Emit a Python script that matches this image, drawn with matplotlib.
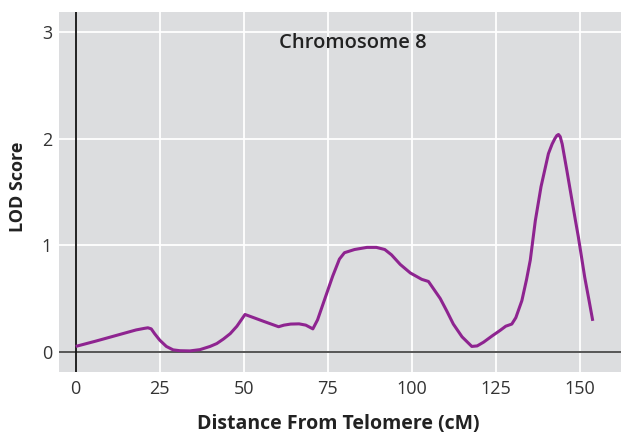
import matplotlib
matplotlib.use("Agg")
import matplotlib.pyplot as plt

# LOD score curve for chromosome 8
distance_cm = [0, 3, 6, 10, 14, 18, 20.5, 21.5, 22.5, 23.5, 25, 27, 29, 31, 34, 37, 40, 42,
               44, 46, 48, 50.4, 53, 56, 60.4, 62, 64, 66.5, 68.5, 70.6, 72, 74.3, 76.5,
               78.5, 80, 83, 86.7, 89.5, 92, 94, 96.6, 99.6, 103, 105, 108.5, 110.5,
               112.4, 115, 117.9, 119.5, 121.4, 124, 126.3, 128, 129.8, 131, 132.8,
               134.2, 135.3, 136.8, 138.5, 140.7, 141.8, 142.6, 143.2, 143.7, 144.2,
               144.8, 146.2, 148.7, 149.6, 151.5, 152.8, 153.9]
lod_score = [0.05, 0.075, 0.10, 0.135, 0.17, 0.205, 0.22, 0.225, 0.215, 0.17, 0.11, 0.05,
             0.018, 0.01, 0.008, 0.02, 0.05, 0.077, 0.12, 0.17, 0.24, 0.35, 0.32, 0.285,
             0.235, 0.25, 0.26, 0.262, 0.25, 0.215, 0.30, 0.51, 0.71, 0.87, 0.93, 0.96,
             0.98, 0.98, 0.96, 0.91, 0.82, 0.74, 0.68, 0.66, 0.50, 0.38, 0.26, 0.14,
             0.05, 0.055, 0.09, 0.15, 0.20, 0.24, 0.26, 0.32, 0.48, 0.68, 0.86, 1.23,
             1.55, 1.86, 1.95, 2.00, 2.03, 2.04, 2.02, 1.95, 1.70, 1.24, 1.08, 0.70,
             0.48, 0.29]

x_ticks = [0, 25, 50, 75, 100, 125, 150]
y_ticks = [0, 1, 2, 3]
title_text = "Chromosome 8"
x_label = "Distance From Telomere (cM)"
y_label = "LOD Score"

plt.rcParams['font.family'] = ['Open Sans', 'DejaVu Sans']

W, H = 621, 434
fig = plt.figure(figsize=(W / 100, H / 100), dpi=100)
ax = fig.add_axes([59 / W, 62 / H, 562 / W, 360 / H])
ax.set_facecolor('#dcdddf')
ax.set_xlim(-4.95, 162.3)
ax.set_ylim(-0.19, 3.19)

ax.set_xticks(x_ticks)
ax.set_yticks(y_ticks)
ax.grid(True, color='white', linewidth=1.3)
ax.set_axisbelow(True)
for s in ax.spines.values():
    s.set_visible(False)
ax.tick_params(length=0, labelsize=13, labelcolor='#333333')
ax.tick_params(axis='x', pad=6)
ax.tick_params(axis='y', pad=5)

ax.axhline(0, color='#555555', linewidth=1.4, zorder=2)
ax.axvline(0, color='#111111', linewidth=1.3, zorder=2)

ax.plot(distance_cm, lod_score, color='#8e2490', linewidth=2.2, zorder=3,
        solid_joinstyle='round', solid_capstyle='butt')

ax.text(82.6, 2.895, title_text, ha='center', va='center', fontsize=14.5,
        fontweight='semibold', color='#222222')
fig.text(338 / W, 1 - 424 / H, x_label, ha='center', va='center', fontsize=14,
         fontweight='bold', color='#222222')
fig.text(18 / W, 1 - 187 / H, y_label, ha='center', va='center', fontsize=13,
         fontweight='bold', color='#222222', rotation=90)

fig.savefig('out.png', dpi=100)
